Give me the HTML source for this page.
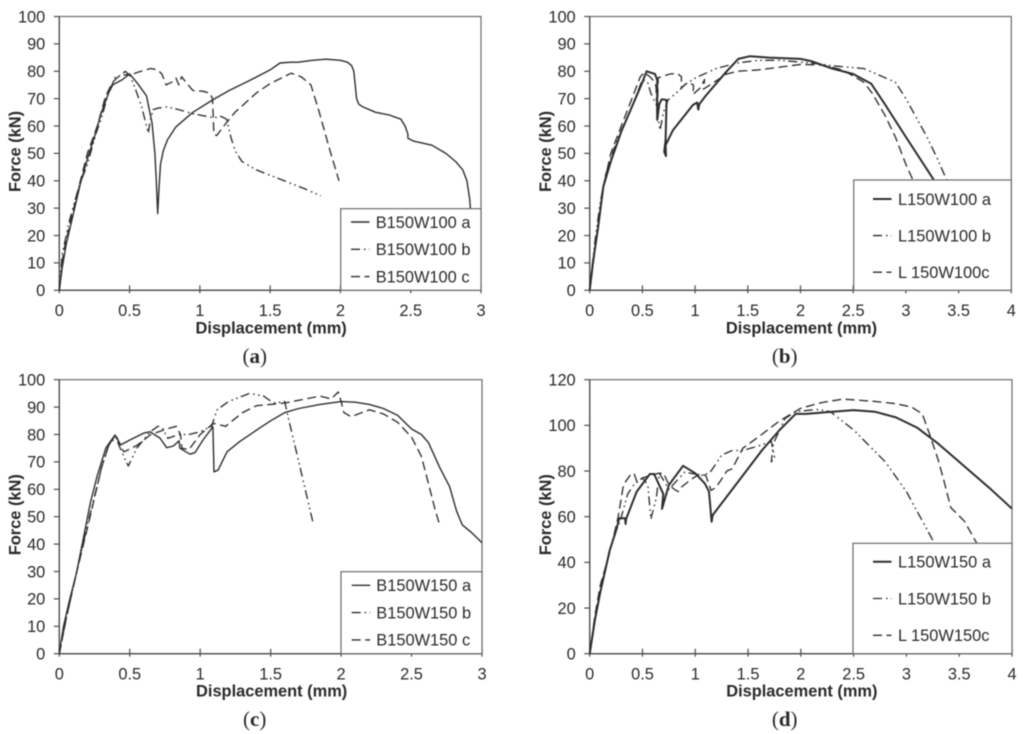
<!DOCTYPE html>
<html lang="en">
<head>
<meta charset="utf-8">
<title>Force-displacement curves</title>
<style>
html,body{margin:0;padding:0;background:#fff;width:1024px;height:734px;overflow:hidden}
svg{display:block;filter:blur(0.45px)}
text{font-family:"Liberation Sans",sans-serif;fill:#2a2a2a}
.cap{font-family:"Liberation Serif",serif;font-size:21px}
</style>
</head>
<body>
<svg id="figure" xmlns="http://www.w3.org/2000/svg" width="1024" height="734" viewBox="0 0 1024 734"></svg>
<script>
// Shared tick labels
const forceTicks100 = [0,10,20,30,40,50,60,70,80,90,100];
const forceTicks120 = [0,20,40,60,80,100,120];
const dispTicks3 = [0,0.5,1,1.5,2,2.5,3];
const dispTicks4 = [0,0.5,1,1.5,2,2.5,3,3.5,4];

// Panel (a)
const aLabels = ["B150W100 a","B150W100 b","B150W100 c"];
const aSeriesAX = [0,.02,.05,.1,.15,.2,.25,.3,.35,.38,.45,.5,.55,.6,.62,.66,.68,.69,.7,.71,.72,.74,.77,.83,.95,1.09,1.21,1.35,1.5,1.57,1.65,1.7,1.8,1.9,2,2.05,2.08,2.095,2.105,2.115,2.13,2.16,2.25,2.35,2.43,2.46,2.48,2.48,2.52,2.65,2.75,2.82,2.87,2.9,2.92,2.925];
const aSeriesAY = [0,8,17,28,39,48,56,65,72,75,77,79,76,72.5,71,61,50,40,28,38,46,51,55,59.7,65,69.5,73,76.5,80.5,83,83.3,83.3,84,84.4,84,83.3,82,80,75,70,68,67,65,64,62.5,60,57,55.5,54.5,53,50,47,44,40,33,29];
const aSeriesBX = [0,.02,.07,.14,.2,.26,.3,.35,.4,.5,.545,.586,.633,.645,.667,.7,.764,.85,.95,1.05,1.1,1.15,1.19,1.22,1.25,1.3,1.4,1.5,1.6,1.75,1.86];
const aSeriesBY = [0,13,25,38,46,57,63,72,78,79,73,67,57.4,61.5,66,66.5,67,66,64.5,63.5,63,63.5,62.5,56,51,47,44,42,40,37,34.5];
const aSeriesCX = [0,.03,.08,.14,.2,.27,.33,.38,.42,.47,.5,.55,.65,.7,.73,.76,.8,.83,.85,.87,.9,.95,1.02,1.07,1.09,1.1,1.12,1.17,1.25,1.4,1.5,1.65,1.72,1.79,1.85,1.92,1.99];
const aSeriesCY = [0,14,25,38,50,60,71,76,78,80,78.5,79.5,81,80.5,79,75,76,77.5,75,78,76,73,72.7,72,70,57,56.5,60,65,72,75.5,79.3,78,75,65,52,40];

// Panel (b)
const bLabels = ["L150W100 a","L150W100 b","L 150W100c"];
const bSeriesAX = [0,.03,.08,.13,.2,.3,.4,.5,.54,.62,.64,.64,.66,.683,.73,.72,.707,.724,.72,.79,.98,1.02,1.03,1.04,1.1,1.3,1.41,1.52,1.7,2,2.1,2.3,2.5,2.67,2.8,3,3.27,3.4];
const bSeriesAY = [0,10,23,38,47,58,67,76,80,79,76.8,62.2,68,69.8,69.5,54.9,50.6,49,53,58.5,67.7,68.6,66,68,71,80,84.5,85.5,85,84.5,83.7,81,79,75.5,68,56,40,30];
const bSeriesBX = [0,.05,.1,.15,.25,.4,.5,.55,.58,.63,.667,.7,.743,.85,.9,1,1.2,1.4,1.6,1.8,2.1,2.3,2.6,2.9,3,3.1,3.2,3.3,3.39,3.5];
const bSeriesBY = [0,18,32,42,54,67,77,76,72,68,58.5,65,69.5,73,75,77.5,81,83,84,84,83,82,81,76,70,63,56,48,40,30];
const bSeriesCX = [0,.05,.1,.13,.2,.3,.4,.48,.52,.57,.62,.63,.64,.65,.76,.83,.87,.87,.93,.985,.98,1.05,1.09,1.08,1.16,1.3,1.4,1.6,1.8,2,2.2,2.4,2.6,2.68,2.8,2.9,3,3.07,3.15];
const bSeriesCY = [0,15,30,38,50,60,70,78,79.5,78,76,74,63,77.6,79,79.2,78,74,76,75,71.5,74,77,73.5,75.5,79,80,80.5,81.5,82.5,82.3,80.5,76,72,64,56,46,40,32];

// Panel (c)
const cLabels = ["B150W150 a","B150W150 b","B150W150 c"];
const cSeriesAX = [0,.03,.07,.12,.17,.22,.27,.33,.37,.395,.436,.5,.6,.644,.715,.762,.81,.85,.855,.928,.963,1.02,1.09,1.098,1.127,1.19,1.28,1.42,1.5,1.6,1.7,1.85,2,2.1,2.2,2.3,2.4,2.5,2.57,2.62,2.7,2.77,2.82,2.86,2.92,3];
const cSeriesAY = [0,10,19,29,42,55,65,75,78,79.8,76.2,78,80.5,81,78.7,75.2,75.8,77.7,75,72.8,73.4,78,82.8,66.4,67,73.7,77.4,82.3,85,88,89.5,91,92,91.8,91,89.5,87,82,80,77,68,61,52,47,44.5,40.5];
const cSeriesBX = [0,.05,.12,.2,.3,.35,.4,.44,.49,.55,.645,.7,.73,.77,.85,.92,1,1.08,1.12,1.2,1.35,1.45,1.52,1.6,1.63,1.7,1.8];
const cSeriesBY = [0,13,29,47,68,76,79,74,68.5,75,81,83,82.5,78.6,80,80,81,83,89,92,95,94,91.5,92,85,70,48];
const cSeriesCX = [0,.05,.12,.2,.3,.35,.4,.44,.46,.55,.65,.76,.83,.86,.87,.92,1,1.08,1.1,1.18,1.3,1.4,1.5,1.6,1.75,1.85,1.93,1.98,2,2.02,2.07,2.2,2.3,2.4,2.5,2.57,2.62,2.67,2.7];
const cSeriesCY = [0,13,29,46,68,76,80,75,73.7,76,80,82,83,80,75,74.5,80,83.5,84,83,88,90.5,91,91.5,93,94,93,95.5,92,88,86.5,89,87.5,84.5,79,72,62,52,47];

// Panel (d)
const dLabels = ["L150W150 a","L150W150 b","L 150W150c"];
const dSeriesAX = [0,.05,.1,.19,.25,.28,.335,.34,.345,.445,.57,.61,.697,.685,.75,.885,1,1.09,1.13,1.155,1.165,1.4,1.63,1.8,1.95,2.05,2.3,2.5,2.7,2.9,3.1,3.3,3.6,3.8,4];
const dSeriesAY = [0,15,27,45.4,54,59.3,59.3,56.8,59,71,78.7,78.7,70,63.4,73.9,82.3,79,74.6,71,57.8,60.7,75,89,98,105,105,106,106.7,106,103.5,99,92,80,72,63.5];
const dSeriesBX = [0,.05,.12,.2,.3,.36,.42,.5,.55,.58,.63,.66,.75,.9,1.08,1.15,1.25,1.35,1.45,1.6,1.72,1.75,1.72,1.74,1.85,1.95,2.15,2.28,2.5,2.8,3,3.2,3.27,3.4];
const dSeriesBY = [0,16,32,47,60,70,74,77,74,59,68,79,72,79.5,78,80,87,89,89,91,93,86,84,92,103,106,107,106,98,84,71,54,48,40];
const dSeriesCX = [0,.05,.1,.2,.27,.32,.38,.42,.45,.5,.57,.65,.7,.75,.8,.84,.87,.95,1.05,1.1,1.15,1.2,1.3,1.35,1.45,1.6,1.8,2,2.2,2.4,2.7,2.9,3.05,3.15,3.22,3.3,3.36,3.42,3.55,3.67,3.8];
const dSeriesCY = [0,17,30,46,60,74,78,79,75,77,78,79,79,74,72,71,73,76,79,78,71.5,73,80,81,90,95,102,107.5,110,111.5,110.5,109.5,108,105,96,85,75,64,58,48,38];

const NS = 'http://www.w3.org/2000/svg';
const root = document.getElementById('figure');

function make(parent, tag, attrs, text){
  const el = document.createElementNS(NS, tag);
  for (const k in attrs) el.setAttribute(k, attrs[k]);
  if (text !== undefined) el.textContent = text;
  parent.appendChild(el);
  return el;
}

const INK = '#2e2e2e';
const AXIS = '#4d4d4d';
const FRAME = '#6a6a6a';
const styleB = '9 4 1.6 3.4 1.6 3.4';
const styleC = '9 4.5';

function drawPanel(p){
  const sx = v => p.left + (v - 0) / (p.xMax) * (p.right - p.left);
  const sy = v => p.bottom - (v - 0) / (p.yMax) * (p.bottom - p.top);

  const g = make(root, 'g', {});
  
  

  const frame = make(g, 'rect', {x:p.left, y:p.top, width:p.right-p.left, height:p.bottom-p.top, fill:'#fff', stroke:FRAME, 'stroke-width':1.2});
  
  

  const xAxis = make(g, 'line', {x1:p.left, x2:p.right, y1:p.bottom, y2:p.bottom, stroke:AXIS, 'stroke-width':1.3});
  
  
  const yAxis = make(g, 'line', {x1:p.left, x2:p.left, y1:p.top, y2:p.bottom, stroke:AXIS, 'stroke-width':1.3});
  
  

  p.yTicks.forEach(t => {
    const y = sy(t);
    const tick = make(g, 'line', {x1:p.left-5.5, x2:p.left, y1:y, y2:y, stroke:AXIS, 'stroke-width':1.2});
    
    
    const label = make(g, 'text', {x:p.left-14, y:y+5.8, 'text-anchor':'end', 'font-size':16.4}, String(t));
    
    
  });
  p.xTicks.forEach(t => {
    const x = sx(t);
    const tick = make(g, 'line', {x1:x, x2:x, y1:p.bottom-5, y2:p.bottom+3, stroke:AXIS, 'stroke-width':1.2});
    
    
    const label = make(g, 'text', {x:x, y:p.bottom+25.8, 'text-anchor':'middle', 'font-size':16.4}, String(t));
    
    
  });

  const xTitle = make(g, 'text', {x:(p.left+p.right)/2 + 1, y:p.bottom+43, 'text-anchor':'middle', 'font-size':16.4, 'font-weight':'bold'}, 'Displacement (mm)');
  
  
  const cy = p.top + 135;
  const yTitle = make(g, 'text', {x:0, y:0, transform:'translate(' + (p.left-38.6) + ',' + cy + ') rotate(-90)', 'text-anchor':'middle', 'font-size':16.4, 'font-weight':'bold'}, 'Force (kN)');
  
  

  p.series.forEach((s, i) => {
    const n = Math.min(s.x.length, s.y.length);
    const pts = [];
    for (let k = 0; k < n; k++) pts.push(sx(s.x[k]).toFixed(1) + ',' + sy(s.y[k]).toFixed(1));
    const line = make(g, 'polyline', {points:pts.join(' '), fill:'none', stroke:INK, 'stroke-width': i === 0 ? p.solidWidth : 1.35, 'stroke-linejoin':'round'});
    if (i === 1) line.setAttribute('stroke-dasharray', styleB);
    if (i === 2) line.setAttribute('stroke-dasharray', styleC);
    
    
  });

  const lg = make(g, 'g', {});
  
  
  const box = make(lg, 'rect', {x:p.legend.x, y:p.legend.y, width:p.right-p.legend.x, height:p.bottom-p.legend.y, fill:'#fff', stroke:FRAME, 'stroke-width':1.2});
  
  
  p.labels.forEach((label, i) => {
    const cyl = p.legend.first + i * p.legend.step;
    const sample = make(lg, 'line', {x1:p.legend.lineX, x2:p.legend.lineX+18.5, y1:cyl, y2:cyl, stroke:INK, 'stroke-width': i === 0 ? p.solidWidth : 1.35});
    if (i === 1) sample.setAttribute('stroke-dasharray', styleB);
    if (i === 2) sample.setAttribute('stroke-dasharray', styleC);
    
    
    const txt = make(lg, 'text', {x:p.legend.textX, y:cyl+5.8, 'font-size':16.4}, label);
    
    
  });

  const cap = make(g, 'text', {x:p.capX, y:p.bottom+72.5, 'text-anchor':'middle', class:'cap'});
  
  
  make(cap, 'tspan', {}, '(');
  make(cap, 'tspan', {'font-weight':'bold'}, p.id);
  make(cap, 'tspan', {}, ')');
}

drawPanel({id:'a', left:59.3, right:481, top:16.5, bottom:290.3, xMax:3, yMax:100, xTicks:dispTicks3, yTicks:forceTicks100, labels:aLabels, solidWidth:1.4, capX:254.7,
  legend:{x:340.7, y:208.7, lineX:351, textX:375.7, first:222, step:27.3},
  series:[{x:aSeriesAX,y:aSeriesAY},{x:aSeriesBX,y:aSeriesBY},{x:aSeriesCX,y:aSeriesCY}]});
drawPanel({id:'b', left:589.7, right:1011.3, top:16.5, bottom:290.3, xMax:4, yMax:100, xTicks:dispTicks4, yTicks:forceTicks100, labels:bLabels, solidWidth:2, capX:784.7,
  legend:{x:853.7, y:180, lineX:873, textX:898, first:199, step:36.6},
  series:[{x:bSeriesAX,y:bSeriesAY},{x:bSeriesBX,y:bSeriesBY},{x:bSeriesCX,y:bSeriesCY}]});
drawPanel({id:'c', left:59.3, right:482, top:379.7, bottom:653.7, xMax:3, yMax:100, xTicks:dispTicks3, yTicks:forceTicks100, labels:cLabels, solidWidth:1.4, capX:254.7,
  legend:{x:341, y:571.7, lineX:351.7, textX:376.3, first:585.3, step:27.3},
  series:[{x:cSeriesAX,y:cSeriesAY},{x:cSeriesBX,y:cSeriesBY},{x:cSeriesCX,y:cSeriesCY}]});
drawPanel({id:'d', left:589.7, right:1012, top:379.7, bottom:653.7, xMax:4, yMax:120, xTicks:dispTicks4, yTicks:forceTicks120, labels:dLabels, solidWidth:2, capX:784.7,
  legend:{x:853, y:543.3, lineX:873, textX:898, first:561.7, step:36.8},
  series:[{x:dSeriesAX,y:dSeriesAY},{x:dSeriesBX,y:dSeriesBY},{x:dSeriesCX,y:dSeriesCY}]});
</script>
</body>
</html>
